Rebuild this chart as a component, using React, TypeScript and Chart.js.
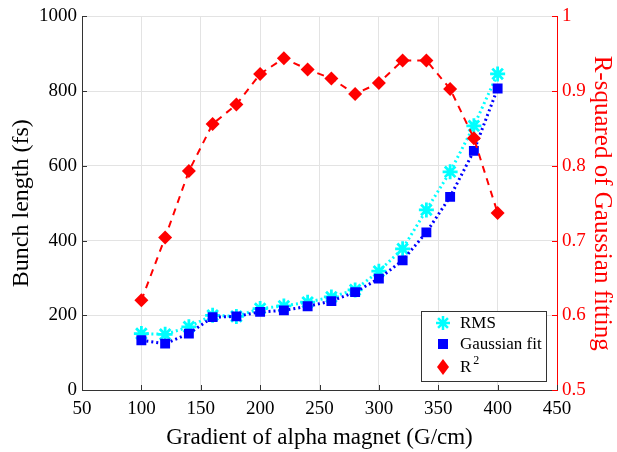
import React, { useEffect, useRef } from "react";
import { Chart, registerables } from "chart.js";

Chart.register(...registerables);

const gradients = [100, 120, 140, 160, 180, 200, 220, 240, 260, 280, 300, 320, 340, 360, 380, 400];
const rmsLength = [151, 149, 169, 200, 197, 218, 225, 235, 249, 268, 318, 378, 482, 584, 707, 846];
const gaussLength = [133, 124, 151, 195, 197, 209, 213, 224, 238, 262, 298, 347, 422, 517, 640, 807];
const rSquared = [0.62, 0.704, 0.793, 0.856, 0.882, 0.923, 0.944, 0.929, 0.917, 0.896, 0.911, 0.941, 0.941, 0.903, 0.837, 0.737];

const xTitle = "Gradient of alpha magnet (G/cm)";
const yLeftTitle = "Bunch length (fs)";
const yRightTitle = "R-squared of Gaussian fitting";
const seriesLabels = ["RMS", "Gaussian fit", "R2"];

const FONT = "'Liberation Serif', 'Times New Roman', serif";

function drawMarker(ctx: CanvasRenderingContext2D, kind: number, x: number, y: number) {
  ctx.save();
  if (kind === 0) {
    ctx.strokeStyle = "#00ffff";
    ctx.lineWidth = 2.5;
    const r = 7;
    ctx.beginPath();
    for (let i = 0; i < 4; i++) {
      const a = (i * Math.PI) / 4;
      ctx.moveTo(x - r * Math.cos(a), y - r * Math.sin(a));
      ctx.lineTo(x + r * Math.cos(a), y + r * Math.sin(a));
    }
    ctx.stroke();
  } else if (kind === 1) {
    ctx.fillStyle = "#0000ff";
    ctx.fillRect(x - 5, y - 5, 10, 10);
  } else {
    ctx.fillStyle = "#ff0000";
    ctx.beginPath();
    ctx.moveTo(x, y - 8);
    ctx.lineTo(x + 6, y);
    ctx.lineTo(x, y + 8);
    ctx.lineTo(x - 6, y);
    ctx.closePath();
    ctx.fill();
  }
  ctx.restore();
}

const innerTicksPlugin = {
  id: "innerTicks",
  afterDraw(chart: any) {
    const ctx = chart.ctx;
    const { left, right, bottom } = chart.chartArea;
    ctx.save();
    ctx.lineWidth = 1;
    const xs = chart.scales.x;
    ctx.strokeStyle = "#333333";
    xs.ticks.forEach((t: any) => {
      const px = Math.round(xs.getPixelForValue(t.value)) + 0.5;
      ctx.beginPath();
      ctx.moveTo(px, bottom);
      ctx.lineTo(px, bottom - 5);
      ctx.stroke();
    });
    const yl = chart.scales.y;
    yl.ticks.forEach((t: any) => {
      const py = Math.round(yl.getPixelForValue(t.value)) + 0.5;
      ctx.beginPath();
      ctx.moveTo(left, py);
      ctx.lineTo(left + 5, py);
      ctx.stroke();
    });
    const yr = chart.scales.y1;
    ctx.strokeStyle = "#ff0000";
    yr.ticks.forEach((t: any) => {
      const py = Math.round(yr.getPixelForValue(t.value)) + 0.5;
      ctx.beginPath();
      ctx.moveTo(right, py);
      ctx.lineTo(right - 5, py);
      ctx.stroke();
    });
    ctx.restore();

    // legend box
    const bx = right - 136;
    const by = bottom - 79;
    const bw = 125;
    const bh = 70;
    ctx.save();
    ctx.fillStyle = "#ffffff";
    ctx.fillRect(bx, by, bw, bh);
    ctx.strokeStyle = "#333333";
    ctx.lineWidth = 1;
    ctx.strokeRect(Math.round(bx) + 0.5, Math.round(by) + 0.5, bw, bh);
    ctx.font = "17px " + FONT;
    ctx.fillStyle = "#000000";
    ctx.textBaseline = "middle";
    const rows = [12, 33, 56];
    seriesLabels.forEach((lab, i) => {
      const cy = by + rows[i];
      drawMarker(ctx, i, bx + 22, cy);
      if (lab === "R2") {
        ctx.fillText("R", bx + 39, cy + 1);
        const w = ctx.measureText("R").width;
        ctx.font = "12px " + FONT;
        ctx.fillText("2", bx + 39 + w + 2, cy - 6);
        ctx.font = "17px " + FONT;
      } else {
        ctx.fillText(lab, bx + 39, cy + 1);
      }
    });
    ctx.restore();
  },
};

export default function App() {
  const ref = useRef<HTMLCanvasElement | null>(null);
  useEffect(() => {
    if (!ref.current) return;
    const chart = new Chart(ref.current, {
      type: "line",
      data: {
        datasets: [
          {
            label: seriesLabels[0],
            data: gradients.map((g, i) => ({ x: g, y: rmsLength[i] })),
            yAxisID: "y",
            borderColor: "#00ffff",
            backgroundColor: "#00ffff",
            borderWidth: 3,
            borderDash: [2, 3],
            pointStyle: "star",
            pointRadius: 7.5,
            pointBorderWidth: 2.8,
            order: 3,
          },
          {
            label: seriesLabels[1],
            data: gradients.map((g, i) => ({ x: g, y: gaussLength[i] })),
            yAxisID: "y",
            borderColor: "#0000ff",
            backgroundColor: "#0000ff",
            borderWidth: 3,
            borderDash: [2, 3],
            pointStyle: "rect",
            pointRadius: 7,
            pointBorderWidth: 0,
            order: 2,
          },
          {
            label: seriesLabels[2],
            data: gradients.map((g, i) => ({ x: g, y: rSquared[i] })),
            yAxisID: "y1",
            borderColor: "#ff0000",
            backgroundColor: "#ff0000",
            borderWidth: 2,
            borderDash: [7, 6],
            pointStyle: "rectRot",
            pointRadius: 7,
            pointBorderWidth: 0,
            order: 1,
          },
        ],
      },
      options: {
        responsive: false,
        animation: false,
        layout: { padding: { top: 15, left: 0, right: 0, bottom: 0 } },
        plugins: { legend: { display: false }, tooltip: { enabled: false } },
        scales: {
          x: {
            type: "linear",
            min: 50,
            max: 450,
            ticks: { stepSize: 50, color: "#000", font: { family: FONT, size: 19 }, padding: 8 },
            grid: { color: "#e3e3e3", drawTicks: false },
            border: { color: "#333333" },
            title: { display: true, text: xTitle, color: "#000", font: { family: FONT, size: 23 }, padding: { top: 0, bottom: 0 } },
            afterFit: (s: any) => { s.height = 62; },
          },
          y: {
            type: "linear",
            position: "left",
            min: 0,
            max: 1000,
            ticks: {
              stepSize: 200,
              color: "#000",
              font: { family: FONT, size: 19 },
              padding: 5,
              callback: (v: any) => String(v),
            },
            grid: { color: "#e3e3e3", drawTicks: false },
            border: { color: "#333333" },
            title: { display: true, text: yLeftTitle, color: "#000", font: { family: FONT, size: 24 }, padding: { top: 7, bottom: 0 } },
            afterFit: (s: any) => { s.width = 82; },
          },
          y1: {
            type: "linear",
            position: "right",
            min: 0.5,
            max: 1,
            ticks: {
              stepSize: 0.1,
              color: "#ff0000",
              font: { family: FONT, size: 19 },
              padding: 5,
              callback: (v: any) => String(Math.round(Number(v) * 10) / 10),
            },
            grid: { drawOnChartArea: false, drawTicks: false },
            border: { color: "#ff0000" },
            title: { display: true, text: yRightTitle, color: "#ff0000", font: { family: FONT, size: 25 }, padding: { top: 0, bottom: 0 } },
            afterFit: (s: any) => { s.width = 60; },
          },
        },
      },
      plugins: [innerTicksPlugin],
    } as any);
    return () => chart.destroy();
  }, []);
  return (
    <div style={{ position: "fixed", left: 0, top: 0, width: 617, height: 452, background: "#fff" }}>
      <canvas ref={ref} width={617} height={452} style={{ display: "block" }} />
    </div>
  );
}
